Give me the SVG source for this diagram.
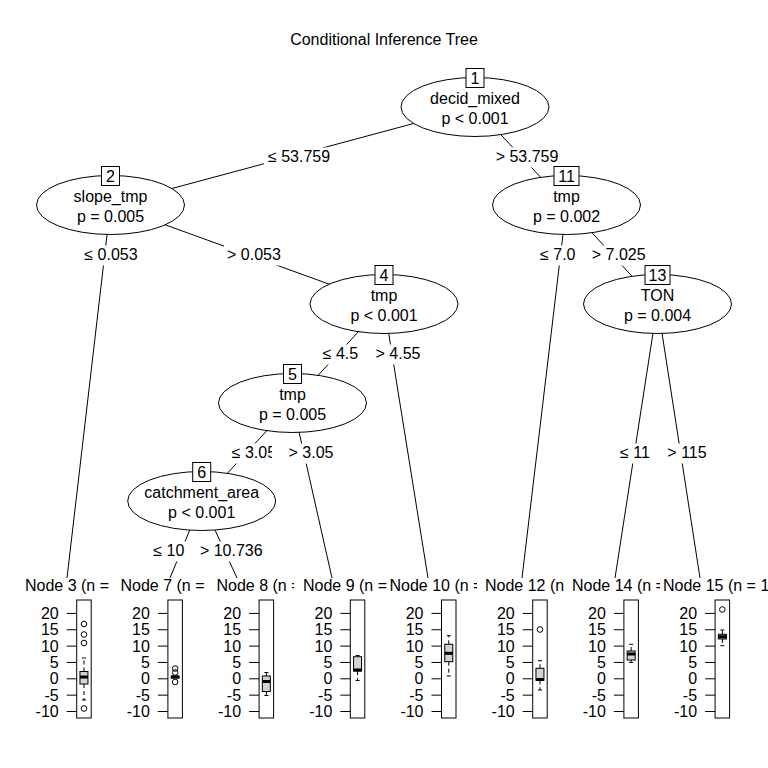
<svg xmlns="http://www.w3.org/2000/svg" width="768" height="768" viewBox="0 0 768 768">
<style>
text{font-family:"Liberation Sans",Arial,sans-serif;font-size:16px;fill:#000}
.m{text-anchor:middle}
.e{text-anchor:end}
.ell{fill:#fff;stroke:#000;stroke-width:1}
.idb{fill:#fff;stroke:#000;stroke-width:1}
.edge{stroke:#000;stroke-width:1;fill:none}
.lbg{fill:#fff;stroke:none}
.pan{fill:none;stroke:#000;stroke-width:1}
.tk{stroke:#000;stroke-width:1}
.box{fill:#d3d3d3;stroke:#000;stroke-width:1}
.med{stroke:#000;stroke-width:3}
.wh{stroke:#000;stroke-width:1;stroke-dasharray:4 3}
.cap{stroke:#000;stroke-width:1}
.out{fill:none;stroke:#000;stroke-width:1}
</style>
<defs>
<clipPath id="c8"><rect x="200" y="570" width="94" height="30"/></clipPath>
<clipPath id="c10"><rect x="380" y="570" width="97" height="30"/></clipPath>
<clipPath id="c14"><rect x="560" y="570" width="100" height="30"/></clipPath>
<clipPath id="c305"><rect x="220" y="440" width="52" height="30"/></clipPath>
</defs>
<rect width="768" height="768" fill="#fff"/>
<text class="m" x="384" y="45">Conditional Inference Tree</text>

<g id="connectors">
<line class="edge" x1="475" y1="107" x2="110.5" y2="205"/>
<line class="edge" x1="475" y1="107" x2="566.5" y2="205"/>
<line class="edge" x1="110.5" y1="205" x2="67" y2="578"/>
<line class="edge" x1="110.5" y1="205" x2="384" y2="304"/>
<line class="edge" x1="384" y1="304" x2="292.5" y2="403"/>
<line class="edge" x1="384" y1="304" x2="428" y2="578"/>
<line class="edge" x1="292.5" y1="403" x2="201.7" y2="501"/>
<line class="edge" x1="292.5" y1="403" x2="332" y2="578"/>
<line class="edge" x1="201.7" y1="501" x2="170" y2="578"/>
<line class="edge" x1="201.7" y1="501" x2="237" y2="578"/>
<line class="edge" x1="566.5" y1="205" x2="522" y2="578"/>
<line class="edge" x1="566.5" y1="205" x2="657.5" y2="304"/>
<line class="edge" x1="657.5" y1="304" x2="615" y2="578"/>
<line class="edge" x1="657.5" y1="304" x2="700" y2="578"/>
<rect class="lbg" x="264" y="147.5" width="70" height="20"/>
<text class="m" x="299" y="162">≤ 53.759</text>
<rect class="lbg" x="492" y="147.5" width="70" height="20"/>
<text class="m" x="527" y="162">&gt; 53.759</text>
<rect class="lbg" x="82" y="245.5" width="58" height="20"/>
<text class="m" x="111" y="260">≤ 0.053</text>
<rect class="lbg" x="224" y="245.5" width="60" height="20"/>
<text class="m" x="254" y="260">&gt; 0.053</text>
<rect class="lbg" x="321" y="344.5" width="40" height="20"/>
<text x="322.7" y="359">≤ 4.5</text>
<rect class="lbg" x="373" y="344.5" width="50" height="20"/>
<text class="m" x="398" y="359">&gt; 4.55</text>
<rect class="lbg" x="230" y="443.5" width="43" height="20"/>
<text x="231.7" y="458" clip-path="url(#c305)">≤ 3.05</text>
<rect class="lbg" x="286" y="443.5" width="50" height="20"/>
<text class="m" x="311" y="458">&gt; 3.05</text>
<rect class="lbg" x="152" y="541.5" width="36" height="20"/>
<text x="153.3" y="556">≤ 10</text>
<rect class="lbg" x="197" y="541.5" width="69" height="20"/>
<text class="m" x="231.3" y="556">&gt; 10.736</text>
<rect class="lbg" x="538" y="245.5" width="40" height="20"/>
<text x="540" y="260">≤ 7.0</text>
<rect class="lbg" x="589" y="245.5" width="59" height="20"/>
<text class="m" x="618.7" y="260">&gt; 7.025</text>
<rect class="lbg" x="618" y="443.5" width="36" height="20"/>
<text x="620" y="458">≤ 11</text>
<rect class="lbg" x="664" y="443.5" width="46" height="20"/>
<text class="m" x="687" y="458">&gt; 115</text>
</g>

<g id="node1">
<ellipse class="ell" cx="475" cy="107" rx="74" ry="29.5"/>
<rect class="idb" x="466" y="68.5" width="18" height="19"/>
<text class="m" x="475" y="83.5">1</text>
<text class="m" x="475" y="104">decid_mixed</text>
<text class="m" x="475" y="123.5">p &lt; 0.001</text>
</g>
<g id="node2">
<ellipse class="ell" cx="110.5" cy="205" rx="74" ry="29.5"/>
<rect class="idb" x="101.5" y="166.5" width="18" height="19"/>
<text class="m" x="110.5" y="181.5">2</text>
<text class="m" x="110.5" y="202">slope_tmp</text>
<text class="m" x="110.5" y="221.5">p = 0.005</text>
</g>
<g id="node11">
<ellipse class="ell" cx="566.5" cy="205" rx="74" ry="29.5"/>
<rect class="idb" x="554" y="166.5" width="25" height="19"/>
<text class="m" x="566.5" y="181.5">11</text>
<text class="m" x="566.5" y="202">tmp</text>
<text class="m" x="566.5" y="221.5">p = 0.002</text>
</g>
<g id="node4">
<ellipse class="ell" cx="384" cy="304" rx="74" ry="29.5"/>
<rect class="idb" x="375" y="265.5" width="18" height="19"/>
<text class="m" x="384" y="280.5">4</text>
<text class="m" x="384" y="301">tmp</text>
<text class="m" x="384" y="320.5">p &lt; 0.001</text>
</g>
<g id="node13">
<ellipse class="ell" cx="657.5" cy="304" rx="74" ry="29.5"/>
<rect class="idb" x="645" y="265.5" width="25" height="19"/>
<text class="m" x="657.5" y="280.5">13</text>
<text class="m" x="657.5" y="301">TON</text>
<text class="m" x="657.5" y="320.5">p = 0.004</text>
</g>
<g id="node5">
<ellipse class="ell" cx="292.5" cy="403" rx="74" ry="29.5"/>
<rect class="idb" x="283.5" y="364.5" width="18" height="19"/>
<text class="m" x="292.5" y="379.5">5</text>
<text class="m" x="292.5" y="400">tmp</text>
<text class="m" x="292.5" y="419.5">p = 0.005</text>
</g>
<g id="node6">
<ellipse class="ell" cx="201.7" cy="501" rx="74" ry="29.5"/>
<rect class="idb" x="192.7" y="462.5" width="18" height="19"/>
<text class="m" x="201.7" y="477.5">6</text>
<text class="m" x="201.7" y="498">catchment_area</text>
<text class="m" x="201.7" y="517.5">p &lt; 0.001</text>
</g>

<g id="node3">
<text x="25" y="591">Node 3 (n =</text>
<g transform="translate(76.7,0)">
<rect class="pan" x="0" y="600" width="14.5" height="118"/>
<line class="tk" x1="-10" y1="613.4" x2="0" y2="613.4"/><line class="tk" x1="-10" y1="629.75" x2="0" y2="629.75"/><line class="tk" x1="-10" y1="646.1" x2="0" y2="646.1"/><line class="tk" x1="-10" y1="662.45" x2="0" y2="662.45"/><line class="tk" x1="-10" y1="678.8" x2="0" y2="678.8"/><line class="tk" x1="-10" y1="695.15" x2="0" y2="695.15"/><line class="tk" x1="-10" y1="711.5" x2="0" y2="711.5"/>
<text class="e" x="-18" y="619">20</text><text class="e" x="-18" y="635.3">15</text><text class="e" x="-18" y="651.7">10</text><text class="e" x="-18" y="668">5</text><text class="e" x="-18" y="684.4">0</text><text class="e" x="-18" y="700.7">-5</text><text class="e" x="-18" y="717">-10</text>
<line class="wh" x1="7.25" y1="671.5" x2="7.25" y2="658"/><line class="cap" x1="5.25" y1="658" x2="9.25" y2="658"/>
<line class="wh" x1="7.25" y1="684" x2="7.25" y2="700"/><line class="cap" x1="5.25" y1="700" x2="9.25" y2="700"/>
<rect class="box" x="3.25" y="671.5" width="8" height="12.5"/>
<line class="med" x1="3.25" y1="677" x2="11.25" y2="677"/>
<circle class="out" cx="7.25" cy="624" r="2.8"/><circle class="out" cx="7.25" cy="634.5" r="2.8"/><circle class="out" cx="7.25" cy="643" r="2.8"/><circle class="out" cx="7.25" cy="708.5" r="2.8"/>
</g>
</g>

<g id="node7">
<text x="120.5" y="591">Node 7 (n =</text>
<g transform="translate(167.9,0)">
<rect class="pan" x="0" y="600" width="14.5" height="118"/>
<line class="tk" x1="-10" y1="613.4" x2="0" y2="613.4"/><line class="tk" x1="-10" y1="629.75" x2="0" y2="629.75"/><line class="tk" x1="-10" y1="646.1" x2="0" y2="646.1"/><line class="tk" x1="-10" y1="662.45" x2="0" y2="662.45"/><line class="tk" x1="-10" y1="678.8" x2="0" y2="678.8"/><line class="tk" x1="-10" y1="695.15" x2="0" y2="695.15"/><line class="tk" x1="-10" y1="711.5" x2="0" y2="711.5"/>
<text class="e" x="-18" y="619">20</text><text class="e" x="-18" y="635.3">15</text><text class="e" x="-18" y="651.7">10</text><text class="e" x="-18" y="668">5</text><text class="e" x="-18" y="684.4">0</text><text class="e" x="-18" y="700.7">-5</text><text class="e" x="-18" y="717">-10</text>
<rect class="box" x="3.25" y="676" width="8" height="2"/>
<line class="med" x1="3.25" y1="677" x2="11.25" y2="677"/>
<circle class="out" cx="7.25" cy="668.5" r="2.8"/><circle class="out" cx="7.25" cy="672.5" r="2.8"/><circle class="out" cx="7.25" cy="682" r="2.8"/>
</g>
</g>

<g id="node8">
<text x="216.5" y="591" clip-path="url(#c8)">Node 8 (n =</text>
<g transform="translate(259.1,0)">
<rect class="pan" x="0" y="600" width="14.5" height="118"/>
<line class="tk" x1="-10" y1="613.4" x2="0" y2="613.4"/><line class="tk" x1="-10" y1="629.75" x2="0" y2="629.75"/><line class="tk" x1="-10" y1="646.1" x2="0" y2="646.1"/><line class="tk" x1="-10" y1="662.45" x2="0" y2="662.45"/><line class="tk" x1="-10" y1="678.8" x2="0" y2="678.8"/><line class="tk" x1="-10" y1="695.15" x2="0" y2="695.15"/><line class="tk" x1="-10" y1="711.5" x2="0" y2="711.5"/>
<text class="e" x="-18" y="619">20</text><text class="e" x="-18" y="635.3">15</text><text class="e" x="-18" y="651.7">10</text><text class="e" x="-18" y="668">5</text><text class="e" x="-18" y="684.4">0</text><text class="e" x="-18" y="700.7">-5</text><text class="e" x="-18" y="717">-10</text>
<line class="wh" x1="7.25" y1="676" x2="7.25" y2="672.5"/><line class="cap" x1="5.25" y1="672.5" x2="9.25" y2="672.5"/>
<line class="wh" x1="7.25" y1="691.5" x2="7.25" y2="695.5"/><line class="cap" x1="5.25" y1="695.5" x2="9.25" y2="695.5"/>
<rect class="box" x="3.25" y="676" width="8" height="15.5"/>
<line class="med" x1="3.25" y1="681.5" x2="11.25" y2="681.5"/>
</g>
</g>

<g id="node9">
<text x="303" y="591">Node 9 (n =</text>
<g transform="translate(350.3,0)">
<rect class="pan" x="0" y="600" width="14.5" height="118"/>
<line class="tk" x1="-10" y1="613.4" x2="0" y2="613.4"/><line class="tk" x1="-10" y1="629.75" x2="0" y2="629.75"/><line class="tk" x1="-10" y1="646.1" x2="0" y2="646.1"/><line class="tk" x1="-10" y1="662.45" x2="0" y2="662.45"/><line class="tk" x1="-10" y1="678.8" x2="0" y2="678.8"/><line class="tk" x1="-10" y1="695.15" x2="0" y2="695.15"/><line class="tk" x1="-10" y1="711.5" x2="0" y2="711.5"/>
<text class="e" x="-18" y="619">20</text><text class="e" x="-18" y="635.3">15</text><text class="e" x="-18" y="651.7">10</text><text class="e" x="-18" y="668">5</text><text class="e" x="-18" y="684.4">0</text><text class="e" x="-18" y="700.7">-5</text><text class="e" x="-18" y="717">-10</text>
<line class="cap" x1="5.25" y1="655.5" x2="9.25" y2="655.5"/>
<line class="wh" x1="7.25" y1="671" x2="7.25" y2="680.5"/><line class="cap" x1="5.25" y1="680.5" x2="9.25" y2="680.5"/>
<rect class="box" x="3.25" y="656.7" width="8" height="14.3"/>
<line class="med" x1="3.25" y1="670" x2="11.25" y2="670"/>
</g>
</g>

<g id="node10">
<text x="389.5" y="591" clip-path="url(#c10)">Node 10 (n =</text>
<g transform="translate(441.5,0)">
<rect class="pan" x="0" y="600" width="14.5" height="118"/>
<line class="tk" x1="-10" y1="613.4" x2="0" y2="613.4"/><line class="tk" x1="-10" y1="629.75" x2="0" y2="629.75"/><line class="tk" x1="-10" y1="646.1" x2="0" y2="646.1"/><line class="tk" x1="-10" y1="662.45" x2="0" y2="662.45"/><line class="tk" x1="-10" y1="678.8" x2="0" y2="678.8"/><line class="tk" x1="-10" y1="695.15" x2="0" y2="695.15"/><line class="tk" x1="-10" y1="711.5" x2="0" y2="711.5"/>
<text class="e" x="-18" y="619">20</text><text class="e" x="-18" y="635.3">15</text><text class="e" x="-18" y="651.7">10</text><text class="e" x="-18" y="668">5</text><text class="e" x="-18" y="684.4">0</text><text class="e" x="-18" y="700.7">-5</text><text class="e" x="-18" y="717">-10</text>
<line class="wh" x1="7.25" y1="644.3" x2="7.25" y2="635.7"/><line class="cap" x1="5.25" y1="635.7" x2="9.25" y2="635.7"/>
<line class="wh" x1="7.25" y1="661.7" x2="7.25" y2="676"/><line class="cap" x1="5.25" y1="676" x2="9.25" y2="676"/>
<rect class="box" x="3.25" y="644.3" width="8" height="17.4"/>
<line class="med" x1="3.25" y1="653.3" x2="11.25" y2="653.3"/>
</g>
</g>

<g id="node12">
<text x="485" y="591">Node 12 (n</text>
<g transform="translate(532.7,0)">
<rect class="pan" x="0" y="600" width="14.5" height="118"/>
<line class="tk" x1="-10" y1="613.4" x2="0" y2="613.4"/><line class="tk" x1="-10" y1="629.75" x2="0" y2="629.75"/><line class="tk" x1="-10" y1="646.1" x2="0" y2="646.1"/><line class="tk" x1="-10" y1="662.45" x2="0" y2="662.45"/><line class="tk" x1="-10" y1="678.8" x2="0" y2="678.8"/><line class="tk" x1="-10" y1="695.15" x2="0" y2="695.15"/><line class="tk" x1="-10" y1="711.5" x2="0" y2="711.5"/>
<text class="e" x="-18" y="619">20</text><text class="e" x="-18" y="635.3">15</text><text class="e" x="-18" y="651.7">10</text><text class="e" x="-18" y="668">5</text><text class="e" x="-18" y="684.4">0</text><text class="e" x="-18" y="700.7">-5</text><text class="e" x="-18" y="717">-10</text>
<line class="wh" x1="7.25" y1="668.3" x2="7.25" y2="660.7"/><line class="cap" x1="5.25" y1="660.7" x2="9.25" y2="660.7"/>
<line class="wh" x1="7.25" y1="680.3" x2="7.25" y2="690"/><line class="cap" x1="5.25" y1="690" x2="9.25" y2="690"/>
<rect class="box" x="3.25" y="668.3" width="8" height="12"/>
<line class="med" x1="3.25" y1="679.5" x2="11.25" y2="679.5"/>
<circle class="out" cx="7.25" cy="629.5" r="2.8"/>
</g>
</g>

<g id="node14">
<text x="572" y="591" clip-path="url(#c14)">Node 14 (n =</text>
<g transform="translate(623.9,0)">
<rect class="pan" x="0" y="600" width="14.5" height="118"/>
<line class="tk" x1="-10" y1="613.4" x2="0" y2="613.4"/><line class="tk" x1="-10" y1="629.75" x2="0" y2="629.75"/><line class="tk" x1="-10" y1="646.1" x2="0" y2="646.1"/><line class="tk" x1="-10" y1="662.45" x2="0" y2="662.45"/><line class="tk" x1="-10" y1="678.8" x2="0" y2="678.8"/><line class="tk" x1="-10" y1="695.15" x2="0" y2="695.15"/><line class="tk" x1="-10" y1="711.5" x2="0" y2="711.5"/>
<text class="e" x="-18" y="619">20</text><text class="e" x="-18" y="635.3">15</text><text class="e" x="-18" y="651.7">10</text><text class="e" x="-18" y="668">5</text><text class="e" x="-18" y="684.4">0</text><text class="e" x="-18" y="700.7">-5</text><text class="e" x="-18" y="717">-10</text>
<line class="wh" x1="7.25" y1="651" x2="7.25" y2="644.3"/><line class="cap" x1="5.25" y1="644.3" x2="9.25" y2="644.3"/>
<line class="wh" x1="7.25" y1="660" x2="7.25" y2="662.5"/><line class="cap" x1="5.25" y1="662.5" x2="9.25" y2="662.5"/>
<rect class="box" x="3.25" y="651" width="8" height="9"/>
<line class="med" x1="3.25" y1="654" x2="11.25" y2="654"/>
</g>
</g>

<g id="node15">
<text x="663" y="591">Node 15 (n = 1</text>
<g transform="translate(715.1,0)">
<rect class="pan" x="0" y="600" width="14.5" height="118"/>
<line class="tk" x1="-10" y1="613.4" x2="0" y2="613.4"/><line class="tk" x1="-10" y1="629.75" x2="0" y2="629.75"/><line class="tk" x1="-10" y1="646.1" x2="0" y2="646.1"/><line class="tk" x1="-10" y1="662.45" x2="0" y2="662.45"/><line class="tk" x1="-10" y1="678.8" x2="0" y2="678.8"/><line class="tk" x1="-10" y1="695.15" x2="0" y2="695.15"/><line class="tk" x1="-10" y1="711.5" x2="0" y2="711.5"/>
<text class="e" x="-18" y="619">20</text><text class="e" x="-18" y="635.3">15</text><text class="e" x="-18" y="651.7">10</text><text class="e" x="-18" y="668">5</text><text class="e" x="-18" y="684.4">0</text><text class="e" x="-18" y="700.7">-5</text><text class="e" x="-18" y="717">-10</text>
<line class="wh" x1="7.25" y1="634.3" x2="7.25" y2="630"/><line class="cap" x1="5.25" y1="630" x2="9.25" y2="630"/>
<line class="wh" x1="7.25" y1="639" x2="7.25" y2="645.7"/><line class="cap" x1="5.25" y1="645.7" x2="9.25" y2="645.7"/>
<rect class="box" x="3.25" y="634.3" width="8" height="4.7"/>
<line class="med" x1="3.25" y1="636.7" x2="11.25" y2="636.7"/>
<circle class="out" cx="7.25" cy="609.5" r="2.8"/>
</g>
</g>
</svg>
